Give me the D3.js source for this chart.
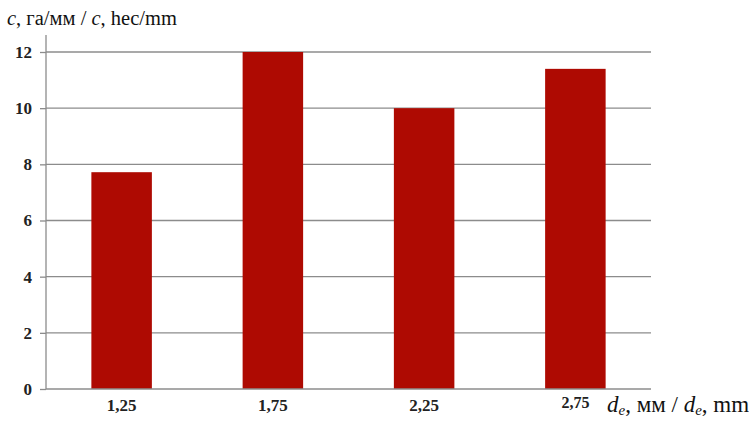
<!DOCTYPE html>
<html>
<head>
<meta charset="utf-8">
<script src="https://cdn.jsdelivr.net/npm/d3@7"></script>
<style>
  body { margin: 0; background: #fff; }
  svg text { font-family: "Liberation Serif", "DejaVu Serif", serif; }
</style>
</head>
<body>
<div id="chart"></div>
<script>
const categories = ["1,25", "1,75", "2,25", "2,75"];
const values = [7.72, 12.0, 10.0, 11.4];
const yTicks = [0, 2, 4, 6, 8, 10, 12];

const svgWidth = 749;
const svgHeight = 423;
const plotLeft = 46, plotRight = 651, plotTop = 52, plotBottom = 389;
const serif = "'Liberation Serif', 'DejaVu Serif', serif";

const svg = d3.select("#chart")
  .append("svg")
  .attr("width", svgWidth)
  .attr("height", svgHeight);

const xScale = d3.scaleBand()
  .domain(categories)
  .range([plotLeft, plotRight])
  .paddingInner(0.6)
  .paddingOuter(0.3);

const yScale = d3.scaleLinear()
  .domain([0, 12])
  .range([plotBottom, plotTop]);

// gridlines + ticks
const yAxis = svg.append("g")
  .attr("transform", `translate(${plotLeft},0)`)
  .call(d3.axisLeft(yScale).tickValues(yTicks).tickSize(6).tickPadding(8).tickFormat(d3.format("d")));
yAxis.select(".domain").remove();
yAxis.selectAll(".tick line").attr("stroke", "#8c8c8c").attr("stroke-width", 1.3);
yAxis.selectAll(".tick text")
  .style("font-family", serif)
  .style("font-size", "17px")
  .style("font-weight", "bold")
  .attr("fill", "#222");

svg.append("g")
  .selectAll("line")
  .data(yTicks.filter(d => d > 0))
  .join("line")
  .attr("x1", plotLeft).attr("x2", plotRight)
  .attr("y1", d => yScale(d)).attr("y2", d => yScale(d))
  .attr("stroke", "#8c8c8c")
  .attr("stroke-width", 1.3);

// bars
svg.selectAll("rect.bar")
  .data(values)
  .join("rect")
  .attr("class", "bar")
  .attr("x", (d, i) => xScale(categories[i]))
  .attr("y", d => yScale(d))
  .attr("width", xScale.bandwidth())
  .attr("height", d => plotBottom - yScale(d))
  .attr("fill", "#ae0a02");

// axis lines
svg.append("line")
  .attr("x1", plotLeft).attr("x2", plotLeft)
  .attr("y1", 35).attr("y2", plotBottom)
  .attr("stroke", "#8c8c8c").attr("stroke-width", 1.3);
svg.append("line")
  .attr("x1", plotLeft).attr("x2", plotRight)
  .attr("y1", plotBottom).attr("y2", plotBottom)
  .attr("stroke", "#8c8c8c").attr("stroke-width", 1.3);

// x labels
svg.append("g")
  .selectAll("text")
  .data(categories)
  .join("text")
  .attr("x", d => xScale(d) + xScale.bandwidth() / 2)
  .attr("y", (d, i) => i === 3 ? 408 : 411)
  .attr("text-anchor", "middle")
  .style("font-family", serif)
  .style("font-size", (d, i) => i === 3 ? "16px" : "17px")
  .style("font-weight", "bold")
  .attr("fill", "#222")
  .text(d => d);

// y title
const yTitle = svg.append("text")
  .attr("x", 7)
  .attr("y", 25)
  .style("font-family", serif)
  .style("font-size", "20.5px")
  .attr("fill", "#111");
yTitle.append("tspan").attr("font-style", "italic").text("c");
yTitle.append("tspan").text(", га/мм / ");
yTitle.append("tspan").attr("font-style", "italic").text("c");
yTitle.append("tspan").text(", hec/mm");

// x title
const xTitle = svg.append("text")
  .attr("x", 607)
  .attr("y", 412)
  .style("font-family", serif)
  .style("font-size", "23px")
  .attr("fill", "#111");
xTitle.append("tspan").attr("font-style", "italic").text("d");
xTitle.append("tspan").attr("font-style", "italic").style("font-size", "15px").attr("dy", 3).text("e");
xTitle.append("tspan").attr("dy", -3).text(", мм / ");
xTitle.append("tspan").attr("font-style", "italic").text("d");
xTitle.append("tspan").attr("font-style", "italic").style("font-size", "15px").attr("dy", 3).text("e");
xTitle.append("tspan").attr("dy", -3).text(", mm");
</script>
</body>
</html>
